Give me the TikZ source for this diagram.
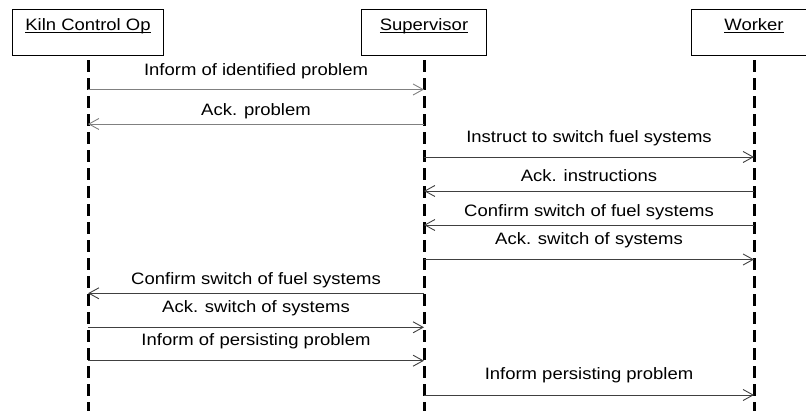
\documentclass[tikz,border=0pt]{standalone}
\usepackage{fontspec}
\setmainfont[FakeStretch=1.12]{Liberation Sans}
\usetikzlibrary{arrows.meta}

\definecolor{lightmsg}{gray}{0.5}
\definecolor{darkmsg}{gray}{0.25}

\tikzset{
  actor/.style={draw, line width=0.8pt, minimum height=46pt, inner sep=0pt},
  lifeline/.style={line width=3pt, dash pattern=on 12pt off 6pt},
  msg/.style={->, line width=0.9pt},
  lbl/.style={anchor=base, inner sep=0pt, text=black}
}

\begin{document}
\begin{tikzpicture}[x=1pt, y=-1pt, >={Straight Barb[length=10pt, width=11pt]},
    font=\fontsize{16.5}{19}\selectfont]
    \useasboundingbox (0,0) rectangle (806,411);

    % actors
    \node[actor, minimum width=151pt] (kiln) at (88,32) {\underline{\smash{Kiln Control Op}}};
    \node[actor, minimum width=125pt] (sup) at (424,32) {\underline{\smash{Supervisor}}};
    \node[actor, minimum width=126pt] (worker) at (754,32) {\underline{\smash{Worker}}};

    % lifelines
    \coordinate (bottom) at (0,412);
    \foreach \a in {kiln, sup, worker}
        \draw[lifeline] ([yshift=-5pt]\a.south) -- (\a |- bottom);

    % messages
    \foreach \y/\from/\to/\r/\c/\t [count=\i] in {
        89.5/kiln/sup/14/lightmsg/Inform of identified problem,
        124/sup/kiln/8.5/lightmsg/Ack. problem,
        157/sup/worker/14.5/darkmsg/Instruct to switch fuel systems,
        191/worker/sup/9.3/darkmsg/Ack. instructions,
        225/worker/sup/8.3/darkmsg/Confirm switch of fuel systems,
        259.5/sup/worker/15.3/darkmsg/Ack. switch of systems,
        293.3/sup/kiln/8.3/darkmsg/Confirm switch of fuel systems,
        327.3/kiln/sup/15/darkmsg/Ack. switch of systems,
        360.7/kiln/sup/14.7/darkmsg/Inform of persisting problem,
        395/sup/worker/15/darkmsg/Inform persisting problem}
    {
        \coordinate (row\i) at (0,\y);
        \draw[msg, \c] (\from |- row\i) -- node[lbl, yshift=\r pt] (l\i) {\t} (\to |- row\i);
    }
\end{tikzpicture}
\end{document}
